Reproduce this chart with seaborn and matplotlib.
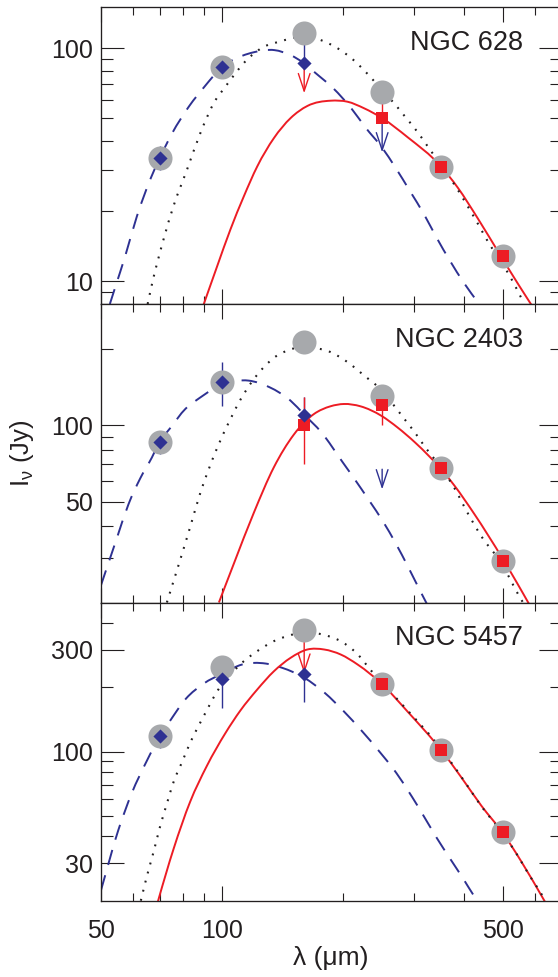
import numpy as np
import matplotlib
matplotlib.use("Agg")
import matplotlib.pyplot as plt
from matplotlib.ticker import FixedLocator, FixedFormatter, NullFormatter
from matplotlib.transforms import offset_copy
from matplotlib.path import Path
from matplotlib.patches import PathPatch
import seaborn as sns

# ---------------------------------------------------------------- data
bands = [70, 100, 160, 250, 350, 500]          # µm
galaxies = ["NGC 628", "NGC 2403", "NGC 5457"]

# total intensity in each band (Jy)
total_628 = [33.8, 83, 115.6, 65, 31, 12.8]
total_2403 = [86, 148, 213, 130, 68, 29.2]
total_5457 = [118, 250, 371, 207, 102, 42]

# warm-dust component (blue diamonds)
warm_wave = [70, 100, 160]
warm_628 = [33.8, 83, 86]
warm_628_lo = [3.7, 3, 0]
warm_628_hi = [4.1, 3, 29.6]
warm_2403 = [86, 148, 110]
warm_2403_lo = [9, 29, 8]
warm_2403_hi = [9, 30, 19]
warm_5457 = [118, 220, 230]
warm_5457_lo = [14, 60, 60]
warm_5457_hi = [13, 45, 0]

# cold-dust component (red squares)
cold_wave_628 = [250, 350, 500]
cold_628 = [50, 31, 12.8]
cold_628_lo = [0, 0, 0]
cold_628_hi = [15, 0, 0]
cold_wave_2403 = [160, 250, 350, 500]
cold_2403 = [100, 120, 68, 29.2]
cold_2403_lo = [30, 20, 0, 0]
cold_2403_hi = [29, 23, 0, 0]
cold_wave_5457 = [250, 350, 500]
cold_5457 = [207, 102, 42]
cold_5457_lo = [0, 0, 0]
cold_5457_hi = [0, 0, 0]

# upper limits: (band, value, component)
limits_628 = [(160, 86, "cold"), (250, 50, "warm")]
limits_2403 = [(250, 67, "warm")]
limits_5457 = [(160, 325, "cold")]

# model curves: warm (dashed), cold (solid), single-temperature (dotted)
warm_fit_wave_628 = [52.6, 54.2, 57.4, 61.4, 66.6, 70, 75.0, 82.9, 90.4, 100, 112.1,
                     120, 135, 148, 160, 170.1, 188.9, 209.5, 227, 250, 269.3, 293.5,
                     318.2, 341.4, 369.2, 398.5, 435.6]
warm_fit_628 = [8.0, 9.4, 12.8, 19.0, 27.9, 33.8, 42.9, 56.5, 68.3, 83, 92.6,
                96, 98, 93.3, 86, 78.6, 67.3, 55.2, 45.8, 37.4, 30.9, 24.3,
                19.3, 15.4, 12.2, 9.9, 8.0]
cold_fit_wave_628 = [90.0, 97.2, 104.9, 113.2, 122.3, 134.5, 148.0, 163.0, 186.3,
                     205.0, 225.5, 250, 289.2, 348.9, 385.6, 432.4, 494.3, 544.3, 600]
cold_fit_628 = [7.97, 11.6, 16.7, 23.1, 31.1, 41.1, 50.1, 56.5, 59.5,
                58.9, 55.2, 50.1, 41.5, 31.3, 25.2, 18.6, 12.75, 9.75, 7.5]
total_fit_wave_628 = [65.3, 67.0, 71.5, 75.7, 81.8, 88.3, 95.3, 101.9, 116, 127,
                      138.5, 160, 193.9, 209.8, 225.5, 238.2, 250, 267.8, 284.1,
                      306.7, 323.1, 350, 378.1, 422.1, 466.1, 494.3, 521.5, 563]
total_fit_628 = [8.0, 9.8, 15.1, 21.0, 30.1, 43.2, 58.0, 68.3, 90, 101.3,
                 106.4, 112, 99.7, 90.4, 80.3, 72.5, 66, 58.0, 51.2,
                 43.5, 38.3, 31.5, 26.0, 19.0, 14.1, 12.1, 10.4, 8.05]

warm_fit_wave_2403 = [50, 54.7, 58.5, 62.6, 66.9, 70, 74.3, 81.0, 87.9, 95.3, 100,
                      108, 116.5, 131.2, 148, 160, 176.6, 199.3, 212.4, 232.4, 251.5,
                      270.2, 290.5, 311.8, 326]
warm_fit_2403 = [23.4, 35.7, 48.7, 61.7, 74.5, 86, 97.3, 115.7, 127.9, 139.7, 148,
                 149.7, 149.7, 141, 124.8, 110, 93.6, 71.5, 62, 50.3, 41.6,
                 34.2, 27.5, 22, 19.2]
cold_fit_wave_2403 = [98.2, 107.1, 119.9, 134.5, 150.6, 160, 169.1, 186, 200.8, 220.8,
                      248.9, 273.2, 301.4, 327.7, 350, 378, 422.3, 500, 541, 581]
cold_fit_2403 = [20, 28.6, 45.1, 68.2, 91.5, 102.5, 110.5, 118.6, 121.1, 118.6,
                 108.8, 97.8, 85.6, 75.2, 67.2, 57.8, 45, 29.5, 23.9, 19.6]
total_fit_wave_2403 = [72.9, 75.0, 78.7, 83.4, 88.3, 92.6, 98.1, 104.9, 111.1, 118.9,
                       127, 137.1, 142.4, 160, 174.2, 186, 205, 225.5, 250, 267.8,
                       284.1, 301.4, 318.2, 350, 378, 408, 441, 500, 523.7, 545, 560]
total_fit_2403 = [20, 23.1, 29.5, 39.9, 54.1, 66.9, 84.1, 105.6, 126, 149,
                  169.2, 188.1, 194, 203.7, 200, 194, 177.1, 156.8, 136.4, 119.2,
                  105.6, 93.6, 82.8, 68, 56.5, 45, 36.5, 27.8, 24.2, 21.5, 20]

warm_fit_wave_5457 = [50, 55.2, 59.6, 65, 70, 73.6, 81.3, 90, 100, 112.1, 128.5,
                      141.1, 160, 180.1, 200.9, 221.3, 250, 266.5, 307.5, 341.4,
                      368.8, 398.5, 422, 435]
warm_fit_5457 = [22.4, 42.8, 63.7, 90.5, 118, 136, 177, 208.3, 232, 255.9, 258.6,
                 247, 222, 188.3, 154.2, 126.5, 96.5, 83, 55, 39.5,
                 31.5, 25.2, 21.2, 19.5]
cold_fit_wave_5457 = [68.6, 69.4, 75.8, 83.3, 91.6, 101.9, 111.1, 122.2, 134.5, 148,
                      163, 179.5, 197.3, 217.3, 250, 289.2, 350, 392.8, 441, 500,
                      554.1, 631.8, 645]
cold_fit_5457 = [18.6, 20.1, 35.1, 58.2, 85.5, 122, 156, 195.1, 237.9, 275.1,
                 301.1, 301, 285.1, 255.9, 207, 154, 102, 76, 55.8, 41.3,
                 30.6, 20.1, 18.8]
total_fit_wave_5457 = [62.8, 65, 67.6, 70, 72.9, 75.8, 79.6, 83.3, 87.4, 91.6, 97.2,
                       104.9, 113.2, 122.2, 134.5, 145, 160, 177.6, 197.3, 217.3,
                       234.6, 250, 289.2, 350, 392.8, 441, 500, 536.4, 577.2, 625, 640]
total_fit_5457 = [20, 26, 34, 44, 57, 72.3, 89.7, 110, 132, 156, 191.6,
                  229.6, 265.2, 295.5, 329.4, 347.6, 362, 354, 329, 286,
                  240, 210, 156, 103.5, 76.5, 55.5, 41, 33.8, 26.8, 21.2, 19.6]

# ---------------------------------------------------------------- style
BLUE = "#2e3192"
RED = "#ed1c24"
GREY = "#a7a9ac"
INK = "#231f20"

sns.set_theme(style="ticks")
plt.rcParams.update({
    "font.family": ["Liberation Sans", "DejaVu Sans"],
    "mathtext.fontset": "custom",
    "mathtext.rm": "Liberation Sans",
    "mathtext.it": "Liberation Sans:italic",
    "axes.linewidth": 0.95,
    "axes.edgecolor": INK,
    "text.color": INK,
    "xtick.color": INK,
    "ytick.color": INK,
})


def smooth_curve(wave, flux):
    """Bezier path through the given points, smooth in log-log space.

    The control points are placed in log space (where the axes are linear),
    so the drawn curve passes exactly through every listed point.
    """
    lx = np.log10(np.asarray(wave, float))
    ly = np.log10(np.asarray(flux, float))
    h = np.diff(lx)
    d = np.diff(ly) / h
    m = np.empty_like(lx)
    m[0], m[-1] = d[0], d[-1]
    m[1:-1] = (d[:-1] * h[1:] + d[1:] * h[:-1]) / (h[:-1] + h[1:])
    verts = [(lx[0], ly[0])]
    codes = [Path.MOVETO]
    for k in range(len(h)):
        verts += [(lx[k] + h[k] / 3, ly[k] + m[k] * h[k] / 3),
                  (lx[k + 1] - h[k] / 3, ly[k + 1] - m[k + 1] * h[k] / 3),
                  (lx[k + 1], ly[k + 1])]
        codes += [Path.CURVE4] * 3
    return Path(10 ** np.array(verts), codes)


panels = [
    dict(name=galaxies[0], total=total_628,
         warm=(warm_628, warm_628_lo, warm_628_hi),
         cold=(cold_wave_628, cold_628, cold_628_lo, cold_628_hi),
         limits=limits_628, arrow_pts=[21.5, 24.5],
         curves=[(warm_fit_wave_628, warm_fit_628), (cold_fit_wave_628, cold_fit_628),
                 (total_fit_wave_628, total_fit_628)],
         ylim=(8, 150), major=[10, 100], minor=[9, 20, 30, 40, 50, 60, 70, 80, 90]),
    dict(name=galaxies[1], total=total_2403,
         warm=(warm_2403, warm_2403_lo, warm_2403_hi),
         cold=(cold_wave_2403, cold_2403, cold_2403_lo, cold_2403_hi),
         limits=limits_2403, arrow_pts=[14.5],
         curves=[(warm_fit_wave_2403, warm_fit_2403), (cold_fit_wave_2403, cold_fit_2403),
                 (total_fit_wave_2403, total_fit_2403)],
         ylim=(20, 300), major=[50, 100], minor=[30, 40, 60, 70, 80, 90, 200]),
    dict(name=galaxies[2], total=total_5457,
         warm=(warm_5457, warm_5457_lo, warm_5457_hi),
         cold=(cold_wave_5457, cold_5457, cold_5457_lo, cold_5457_hi),
         limits=limits_5457, arrow_pts=[22.5],
         curves=[(warm_fit_wave_5457, warm_fit_5457), (cold_fit_wave_5457, cold_fit_5457),
                 (total_fit_wave_5457, total_fit_5457)],
         ylim=(20, 500), major=[30, 100, 300], minor=[40, 50, 60, 70, 80, 90, 200, 400]),
]

W, H = 558, 977
fig = plt.figure(figsize=(W / 100, H / 100), dpi=100)
x0, x1 = 101, 562
edges = [7, 304, 602.5, 900.7]

curve_styles = [dict(edgecolor=BLUE, linewidth=1.4, linestyle=(0, (8, 5.5))),
                dict(edgecolor=RED, linewidth=1.4, linestyle="-"),
                dict(edgecolor=INK, linewidth=1.5, linestyle=(0, (0.9, 3.6)))]

for i, p in enumerate(panels):
    top, bot = edges[i], edges[i + 1]
    ax = fig.add_axes([x0 / W, 1 - bot / H, (x1 - x0) / W, (bot - top) / H])
    ax.set_xscale("log")
    ax.set_yscale("log")
    ax.set_xlim(50, 700)
    ax.set_ylim(*p["ylim"])

    # model curves
    for (wv, fl), st in zip(p["curves"], curve_styles):
        ax.add_patch(PathPatch(smooth_curve(wv, fl), facecolor="none",
                               transform=ax.transData, zorder=2,
                               capstyle="butt", **st))

    # error bars
    fl_w, lo_w, hi_w = p["warm"]
    ax.errorbar(warm_wave, fl_w, yerr=[lo_w, hi_w], fmt="none", ecolor=BLUE,
                elinewidth=1.0, capsize=0, zorder=3)
    wv_c, fl_c, lo_c, hi_c = p["cold"]
    ax.errorbar(wv_c, fl_c, yerr=[lo_c, hi_c], fmt="none", ecolor=RED,
                elinewidth=1.0, capsize=0, zorder=3.1)

    # upper limits drawn as open arrows pointing down
    for (lam, val, comp), L in zip(p["limits"], p["arrow_pts"]):
        tip = offset_copy(ax.transData, fig=fig, x=0, y=-L, units="points")
        ax.annotate("", xy=(lam, val), xycoords=tip, xytext=(lam, val),
                    textcoords="data",
                    arrowprops=dict(arrowstyle="->,head_length=0.9,head_width=0.3",
                                    color=RED if comp == "cold" else BLUE, lw=1.0,
                                    shrinkA=0, shrinkB=0, mutation_scale=14),
                    zorder=3.5)

    # measured points
    sns.scatterplot(x=bands, y=p["total"], ax=ax, color=GREY, s=300,
                    marker="o", linewidth=0, zorder=4)
    sns.scatterplot(x=wv_c, y=fl_c, ax=ax, color=RED, s=64,
                    marker="s", linewidth=0, zorder=5)
    sns.scatterplot(x=warm_wave, y=fl_w, ax=ax, color=BLUE, s=52,
                    marker="D", linewidth=0, zorder=6)

    ax.set_xlim(50, 700)
    ax.set_ylim(*p["ylim"])
    ax.set_xlabel("")
    ax.set_ylabel("")

    ax.xaxis.set_major_locator(FixedLocator([50, 100, 500]))
    ax.xaxis.set_minor_locator(FixedLocator([60, 70, 80, 90, 200, 300, 400, 600]))
    ax.yaxis.set_major_locator(FixedLocator(p["major"]))
    ax.yaxis.set_major_formatter(FixedFormatter([str(v) for v in p["major"]]))
    ax.yaxis.set_minor_locator(FixedLocator(p["minor"]))
    ax.yaxis.set_minor_formatter(NullFormatter())
    ax.xaxis.set_minor_formatter(NullFormatter())
    if i == 2:
        ax.xaxis.set_major_formatter(FixedFormatter(["50", "100", "500"]))
    else:
        ax.xaxis.set_major_formatter(NullFormatter())

    ax.tick_params(which="both", direction="in", top=True, right=True, width=0.8)
    ax.tick_params(axis="y", which="major", length=16.5, pad=6, labelsize=18)
    ax.tick_params(axis="y", which="minor", length=8.5)
    ax.tick_params(axis="x", which="major", length=10.8, pad=13, labelsize=18)
    ax.tick_params(axis="x", which="minor", length=5.8)
    for s in ax.spines.values():
        s.set_visible(True)

    ax.text(0.915, 0.88, p["name"], transform=ax.transAxes, ha="right",
            va="center", fontsize=19.5)

fig.text(331 / W, 1 - 958 / H, "λ (μm)", ha="center", va="center", fontsize=19)
fig.text(22 / W, 1 - 453 / H, r"I$_{\mathrm{\nu}}$ (Jy)", ha="center", va="center",
         rotation=90, fontsize=18.5)

fig.savefig("out.png", dpi=100)
